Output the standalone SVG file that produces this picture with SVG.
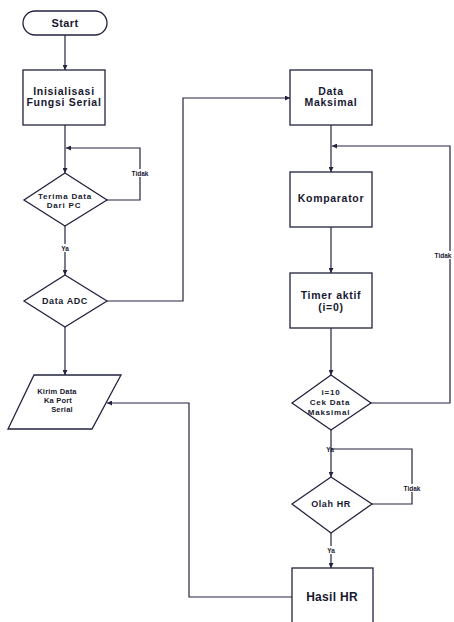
<svg xmlns="http://www.w3.org/2000/svg" width="454" height="622" viewBox="0 0 454 622">
<style>
.s{fill:#fff;stroke:#23233f;stroke-width:1.3}
.c{fill:none;stroke:#23233f;stroke-width:1.2}
text{font-family:"Liberation Sans",Arial,sans-serif;font-weight:bold;fill:#18182f;text-anchor:middle}
.t12{font-size:12px;letter-spacing:0.3px}
.t11{font-size:11px;letter-spacing:0.4px}
.t10{font-size:10.5px;letter-spacing:0.7px}
.t9{font-size:9px;letter-spacing:0.6px}
.t8{font-size:8px;letter-spacing:0.8px}
.t7{font-size:7.5px;letter-spacing:0.2px}
.lb{font-size:6.5px}
</style>
<defs>
<marker id="a" viewBox="0 0 8 8" refX="8" refY="4" markerWidth="5" markerHeight="5" orient="auto" markerUnits="userSpaceOnUse">
<path d="M0,0 L8,4 L0,8 z" fill="#23233f"/>
</marker>
</defs>
<rect width="454" height="622" fill="#fff"/>
<g id="connectors">
<path class="c" d="M65,35 V70" marker-end="url(#a)"/>
<path class="c" d="M65,125 V173" marker-end="url(#a)"/>
<path class="c" d="M107,200 H140 V148 H66" marker-end="url(#a)"/>
<path class="c" d="M65,226 V275" marker-end="url(#a)"/>
<path class="c" d="M107,301 H183 V98 H290" marker-end="url(#a)"/>
<path class="c" d="M65,327 V375" marker-end="url(#a)"/>
<path class="c" d="M331,125 V172" marker-end="url(#a)"/>
<path class="c" d="M371,403 H450 V146 H332" marker-end="url(#a)"/>
<path class="c" d="M331,227 V273" marker-end="url(#a)"/>
<path class="c" d="M331,328 V375" marker-end="url(#a)"/>
<path class="c" d="M331,430 V477" marker-end="url(#a)"/>
<path class="c" d="M372,504 H412 V449 H331"/>
<path class="c" d="M331,533 V568" marker-end="url(#a)"/>
<path class="c" d="M292,597 H189 V403 H107" marker-end="url(#a)"/>
<rect x="132" y="169" width="17" height="8" fill="#fff"/>
<text class="lb" x="140" y="175.5">Tidak</text>
<rect x="58" y="244" width="14" height="8" fill="#fff"/>
<text class="lb" x="65" y="250.5">Ya</text>
<rect x="435" y="251" width="19" height="8" fill="#fff"/>
<text class="lb" x="443" y="257.5">Tidak</text>
<text class="lb" x="330" y="452">Ya</text>
<rect x="404" y="484" width="17" height="8" fill="#fff"/>
<text class="lb" x="412" y="490.5">Tidak</text>
<rect x="325" y="546" width="12" height="8" fill="#fff"/>
<text class="lb" x="331" y="552.5">Ya</text>
</g>
<g id="start">
<rect class="s" x="23" y="11" width="84" height="24" rx="12"/>
<text class="t11" x="65" y="27">Start</text>
</g>
<g id="init">
<rect class="s" x="23" y="70" width="82" height="55"/>
<text class="t10" x="64" y="95">Inisialisasi</text>
<text class="t10" x="64" y="106">Fungsi Serial</text>
</g>
<g id="terima">
<polygon class="s" points="65,173 107,200 65,226 24,200"/>
<text class="t8" x="65" y="199">Terima Data</text>
<text class="t8" x="64" y="208">Dari PC</text>
</g>
<g id="adc">
<polygon class="s" points="65,275 107,301 65,327 24,301"/>
<text class="t9" x="65" y="304">Data ADC</text>
</g>
<g id="kirim">
<polygon class="s" points="34,375 121,375 92,429 8,429"/>
<text class="t7" x="57" y="394">Kirim Data</text>
<text class="t7" x="58" y="403">Ka Port</text>
<text class="t7" x="62" y="412">Serial</text>
</g>
<g id="maksimal">
<rect class="s" x="290" y="70" width="82" height="55"/>
<text class="t10" x="331" y="95">Data</text>
<text class="t10" x="331" y="106">Maksimal</text>
</g>
<g id="komparator">
<rect class="s" x="290" y="172" width="82" height="55"/>
<text class="t10" x="331" y="202">Komparator</text>
</g>
<g id="timer">
<rect class="s" x="290" y="273" width="82" height="55"/>
<text class="t10" x="331" y="299">Timer aktif</text>
<text class="t10" x="331" y="311">(i=0)</text>
</g>
<g id="cek">
<polygon class="s" points="331,375 371,403 331,430 292,403"/>
<text class="t8" x="331" y="395">i=10</text>
<text class="t8" x="330" y="405">Cek Data</text>
<text class="t8" x="329" y="415">Maksimal</text>
</g>
<g id="olah">
<polygon class="s" points="331,477 372,504 331,533 292,504"/>
<text class="t9" x="331" y="507">Olah HR</text>
</g>
<g id="hasil">
<rect class="s" x="292" y="568" width="81" height="60"/>
<text class="t12" x="332" y="601">Hasil HR</text>
</g>
</svg>
